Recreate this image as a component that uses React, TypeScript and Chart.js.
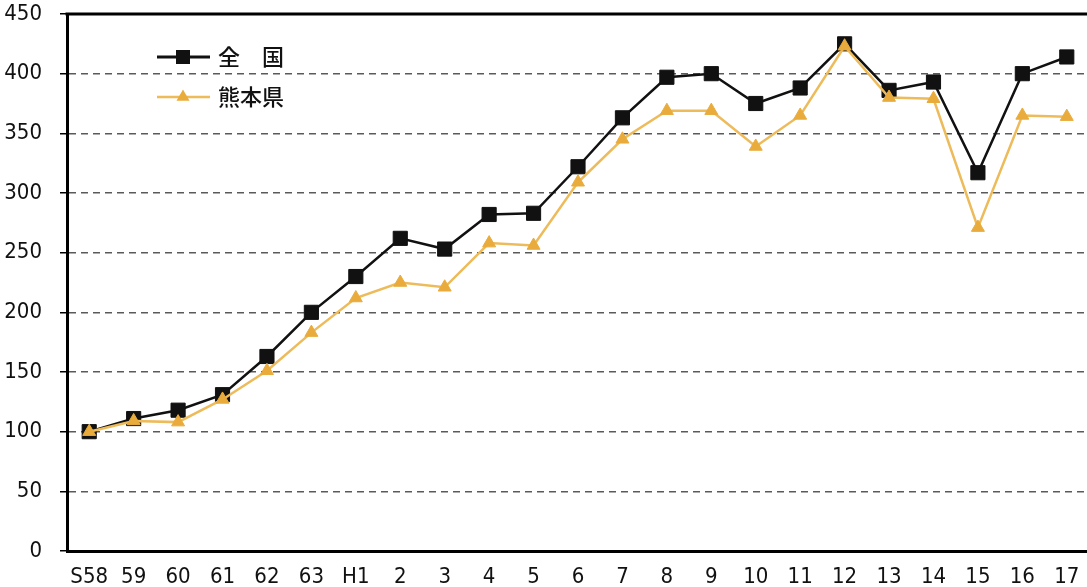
import React, { useEffect, useRef } from "react";
import { Chart, registerables } from "chart.js";

Chart.register(...registerables);

const categories = ["S58", "59", "60", "61", "62", "63", "H1", "2", "3", "4", "5", "6", "7", "8", "9", "10", "11", "12", "13", "14", "15", "16", "17"];
const nationalLabel = "全　国";
const nationalValues = [100, 111, 118, 131, 163, 200, 230, 262, 253, 282, 283, 322, 363, 397, 400, 375, 388, 425, 386, 393, 317, 400, 414];
const kumamotoLabel = "熊本県";
const kumamotoValues = [100, 109, 108, 127, 151, 183, 212, 225, 221, 258, 256, 309, 345, 369, 369, 339, 365, 423, 380, 379, 271, 365, 364];
const yMin = 0;
const yMax = 450;
const yStep = 50;

const tickFont = "'Liberation Sans Narrow', 'DejaVu Sans Condensed', 'Liberation Sans', sans-serif";

const framePlugin = {
  id: "frame",
  afterDatasetsDraw(chart: any) {
    const { ctx, chartArea } = chart;
    ctx.save();
    ctx.strokeStyle = "#000";
    ctx.lineWidth = 3;
    ctx.beginPath();
    ctx.moveTo(chartArea.left - 1.5, chartArea.top);
    ctx.lineTo(chartArea.right + 5, chartArea.top);
    ctx.stroke();

    const rows = [57, 97];
    chart.data.datasets.forEach((ds: any, i: number) => {
      const y = rows[i];
      const x0 = 157, x1 = 210, cx = 183;
      ctx.strokeStyle = ds.borderColor;
      ctx.lineWidth = i === 0 ? 3 : 2.5;
      ctx.beginPath();
      ctx.moveTo(x0, y);
      ctx.lineTo(x1, y);
      ctx.stroke();
      ctx.fillStyle = ds.pointBackgroundColor;
      ctx.beginPath();
      if (ds.pointStyle === "rect") {
        ctx.rect(cx - 7, y - 7, 14, 14);
      } else {
        const r = 7.5;
        ctx.moveTo(cx, y - r);
        ctx.lineTo(cx + r * 0.866, y + r * 0.5);
        ctx.lineTo(cx - r * 0.866, y + r * 0.5);
        ctx.closePath();
      }
      ctx.fill();
      ctx.fillStyle = "#111";
      ctx.font = "500 22px 'Noto Sans CJK JP'";
      ctx.textBaseline = "middle";
      ctx.textAlign = "left";
      ctx.fillText(ds.label, 218, y);
    });
    ctx.restore();
  },
};

export default function App() {
  const canvasRef = useRef<HTMLCanvasElement | null>(null);

  useEffect(() => {
    const canvas = canvasRef.current;
    if (!canvas) return;
    const chart = new Chart(canvas, {
      type: "line",
      data: {
        labels: categories,
        datasets: [
          {
            label: nationalLabel,
            data: nationalValues,
            borderColor: "#111111",
            borderWidth: 2.5,
            pointStyle: "rect",
            pointRadius: 10,
            pointBorderWidth: 1,
            pointBackgroundColor: "#111111",
            pointBorderColor: "#111111",
            order: 1,
            tension: 0,
          },
          {
            label: kumamotoLabel,
            data: kumamotoValues,
            borderColor: "#EDBB5A",
            borderWidth: 2.5,
            pointStyle: "triangle",
            pointRadius: 7.5,
            pointBorderWidth: 1,
            pointBackgroundColor: "#E9AC3C",
            pointBorderColor: "#E9AC3C",
            order: 0,
            tension: 0,
          },
        ],
      },
      options: {
        animation: false,
        responsive: true,
        maintainAspectRatio: false,
        layout: { padding: { top: 14, right: 8, bottom: 0, left: 0 } },
        plugins: {
          legend: { display: false },
          tooltip: { enabled: false },
        },
        scales: {
          x: {
            offset: true,
            grid: { display: false, drawTicks: false },
            border: { display: true, color: "#000", width: 3 },
            ticks: {
              color: "#111",
              font: { family: tickFont, size: 22 },
              padding: 13,
              maxRotation: 0,
              autoSkip: false,
            },
            afterFit(scale: any) {
              scale.height = 36;
              scale.paddingLeft = 0;
              scale.paddingRight = 0;
            },
          },
          y: {
            min: yMin,
            max: yMax,
            ticks: {
              stepSize: yStep,
              color: "#111",
              font: { family: tickFont, size: 22 },
              padding: 18,
            },
            grid: {
              color: (c: any) =>
                c.tick && (c.tick.value === yMin || c.tick.value === yMax) ? "rgba(0,0,0,0)" : "#5a5a5a",
              lineWidth: 1.5,
              drawTicks: true,
              tickLength: 7,
              tickColor: "#000",
              tickWidth: 1.5,
            },
            border: { display: true, color: "#000", width: 3, dash: [7, 5] },
            afterFit(scale: any) {
              scale.width = 67;
              scale.paddingTop = 0;
              scale.paddingBottom = 0;
            },
          },
        },
      },
      plugins: [framePlugin],
    });
    return () => chart.destroy();
  }, []);

  return (
    <div style={{ position: "fixed", left: 0, top: 0, width: 1087, height: 587, overflow: "hidden", background: "#fff" }}>
      <div style={{ position: "relative", width: 1100, height: 587 }}>
        <canvas ref={canvasRef} />
      </div>
    </div>
  );
}
